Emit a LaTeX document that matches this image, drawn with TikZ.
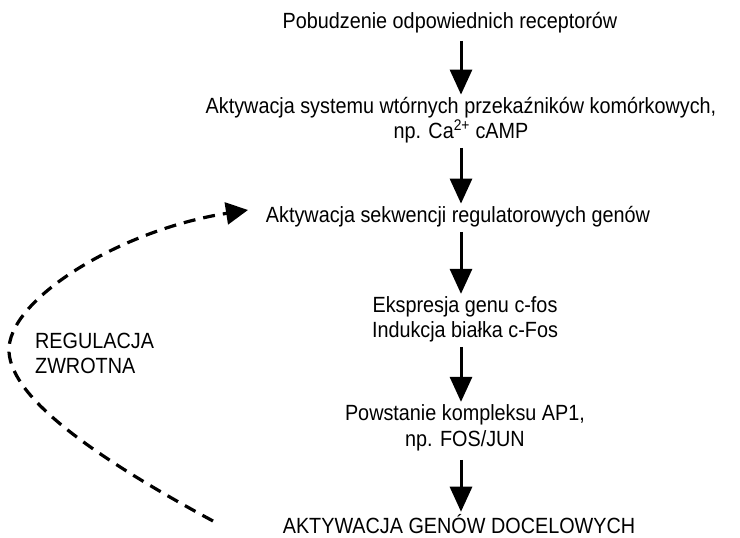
\documentclass[tikz,border=0pt]{standalone}
\usepackage{fontspec}
\setmainfont[FakeStretch=0.9]{Liberation Sans}
\usetikzlibrary{arrows.meta,calc}
\begin{document}
\begin{tikzpicture}[x=1pt,y=-1pt,
  lbl/.style={anchor=base,inner sep=0pt,font=\fontsize{22}{25}\selectfont,align=center},
  arr/.style={line width=3pt,-{Triangle[length=25pt,width=22pt]}},
  fb/.style={line width=3.2pt,dash pattern=on 12pt off 8pt,-{Triangle[length=22pt,width=22pt]}}]
\useasboundingbox (0,0) rectangle (740,538);
\coordinate (axis) at (461,0);
\node[lbl] (n1) at (450,28) {Pobudzenie odpowiednich receptorów};
\node[lbl] (n2a) at (461,113) {Aktywacja systemu wtórnych przekaźników komórkowych,};
\node[lbl] (n2b) at (461,138) {np. Ca\textsuperscript{2+} cAMP};
\node[lbl] (n3) at (458,222) {Aktywacja sekwencji regulatorowych genów};
\node[lbl] (n4a) at (465,312) {Ekspresja genu c-fos};
\node[lbl] (n4b) at (465,337) {Indukcja białka c-Fos};
\node[lbl] (n5a) at (465,420) {Powstanie kompleksu AP1,};
\node[lbl] (n5b) at (465,446) {np. FOS/JUN};
\node[lbl] (n6) at (459,533) {AKTYWACJA GENÓW DOCELOWYCH};
\node[lbl,anchor=base west] (r1) at (35,348) {REGULACJA};
\node[lbl,anchor=base west] (r2) at (35,373) {ZWROTNA};
\coordinate (fbstart) at (213,521);
\coordinate (fbtip) at (248,210);
\draw[arr,shorten <=8pt,shorten >=2pt] (n1.south -| axis) -- (n2a.north -| axis);
\draw[arr,shorten <=5pt,shorten >=2pt] (n2b.south -| axis) -- (n3.north -| axis);
\draw[arr,shorten <=5pt,shorten >=2pt] (n3.south -| axis) -- (n4a.north -| axis);
\draw[arr,shorten <=5pt,shorten >=2pt] (n4b.south -| axis) -- (n5a.north -| axis);
\draw[arr,shorten <=9pt,shorten >=2pt] (n5b.south -| axis) -- (n6.north -| axis);
\draw[fb] (fbstart) .. controls (100,460) and (12,400) .. (9,352) .. controls (6,300) and (120,230) .. (fbtip);
\end{tikzpicture}
\end{document}
